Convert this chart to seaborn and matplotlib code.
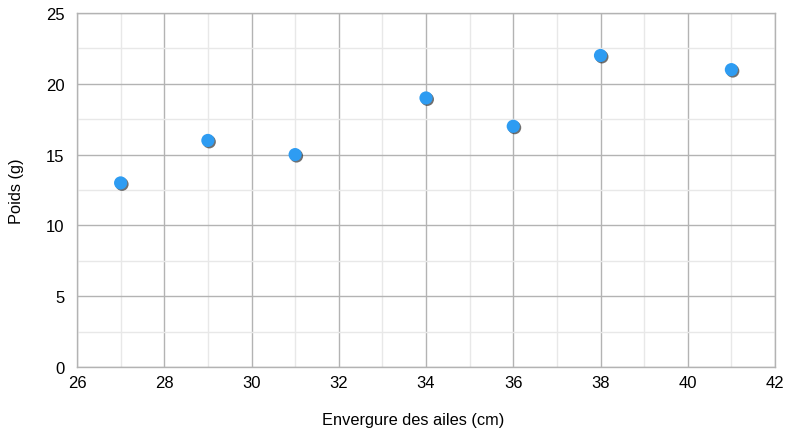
import numpy as np
import pandas as pd
import seaborn as sns
import matplotlib.pyplot as plt
from matplotlib.ticker import MultipleLocator
import matplotlib.patheffects as pe

# data
envergure = [27, 29, 31, 34, 36, 38, 41]
poids = [13, 16, 15, 19, 17, 22, 21]

df = pd.DataFrame({"Envergure des ailes (cm)": envergure, "Poids (g)": poids})

sns.set_style("white")
plt.rcParams['font.family'] = ['Liberation Sans', 'DejaVu Sans']
plt.rcParams['text.color'] = 'black'
plt.rcParams['axes.labelcolor'] = 'black'
plt.rcParams['xtick.labelcolor'] = 'black'
plt.rcParams['ytick.labelcolor'] = 'black'

fig = plt.figure(figsize=(7.92, 4.35), dpi=100)
ax = fig.add_axes([77 / 792, 1 - 368 / 435, (775 - 77) / 792, (368 - 14) / 435])

sns.scatterplot(data=df, x="Envergure des ailes (cm)", y="Poids (g)", ax=ax,
                s=90, color="#2e9cf2", edgecolor="none", zorder=3,
                path_effects=[pe.SimplePatchShadow(offset=(1, -1), shadow_rgbFace="#333333", alpha=0.7),
                              pe.Normal()])

ax.set_xlim(26, 42)
ax.set_ylim(0, 25)
ax.xaxis.set_major_locator(MultipleLocator(2))
ax.xaxis.set_minor_locator(MultipleLocator(1))
ax.yaxis.set_major_locator(MultipleLocator(5))
ax.yaxis.set_minor_locator(MultipleLocator(2.5))

ax.grid(which="major", color="#b3b3b3", linewidth=1)
ax.grid(which="minor", color="#e8e8e8", linewidth=1)
ax.set_axisbelow(True)

for sp in ax.spines.values():
    sp.set_color("#b3b3b3")
    sp.set_linewidth(1)

ax.tick_params(which="major", length=6, color="#b3b3b3", width=1, labelsize=12, pad=3)
ax.tick_params(which="minor", length=0)
ax.tick_params(axis="x", direction="inout")
ax.tick_params(axis="y", direction="out")

ax.set_xlabel("Envergure des ailes (cm)", fontsize=11.8, va="center")
ax.set_ylabel("Poids (g)", fontsize=11.8, va="center")
ax.xaxis.set_label_coords(0.481, -0.147)
ax.yaxis.set_label_coords(-0.087, 0.5)

fig.savefig("out.png", dpi=100)
